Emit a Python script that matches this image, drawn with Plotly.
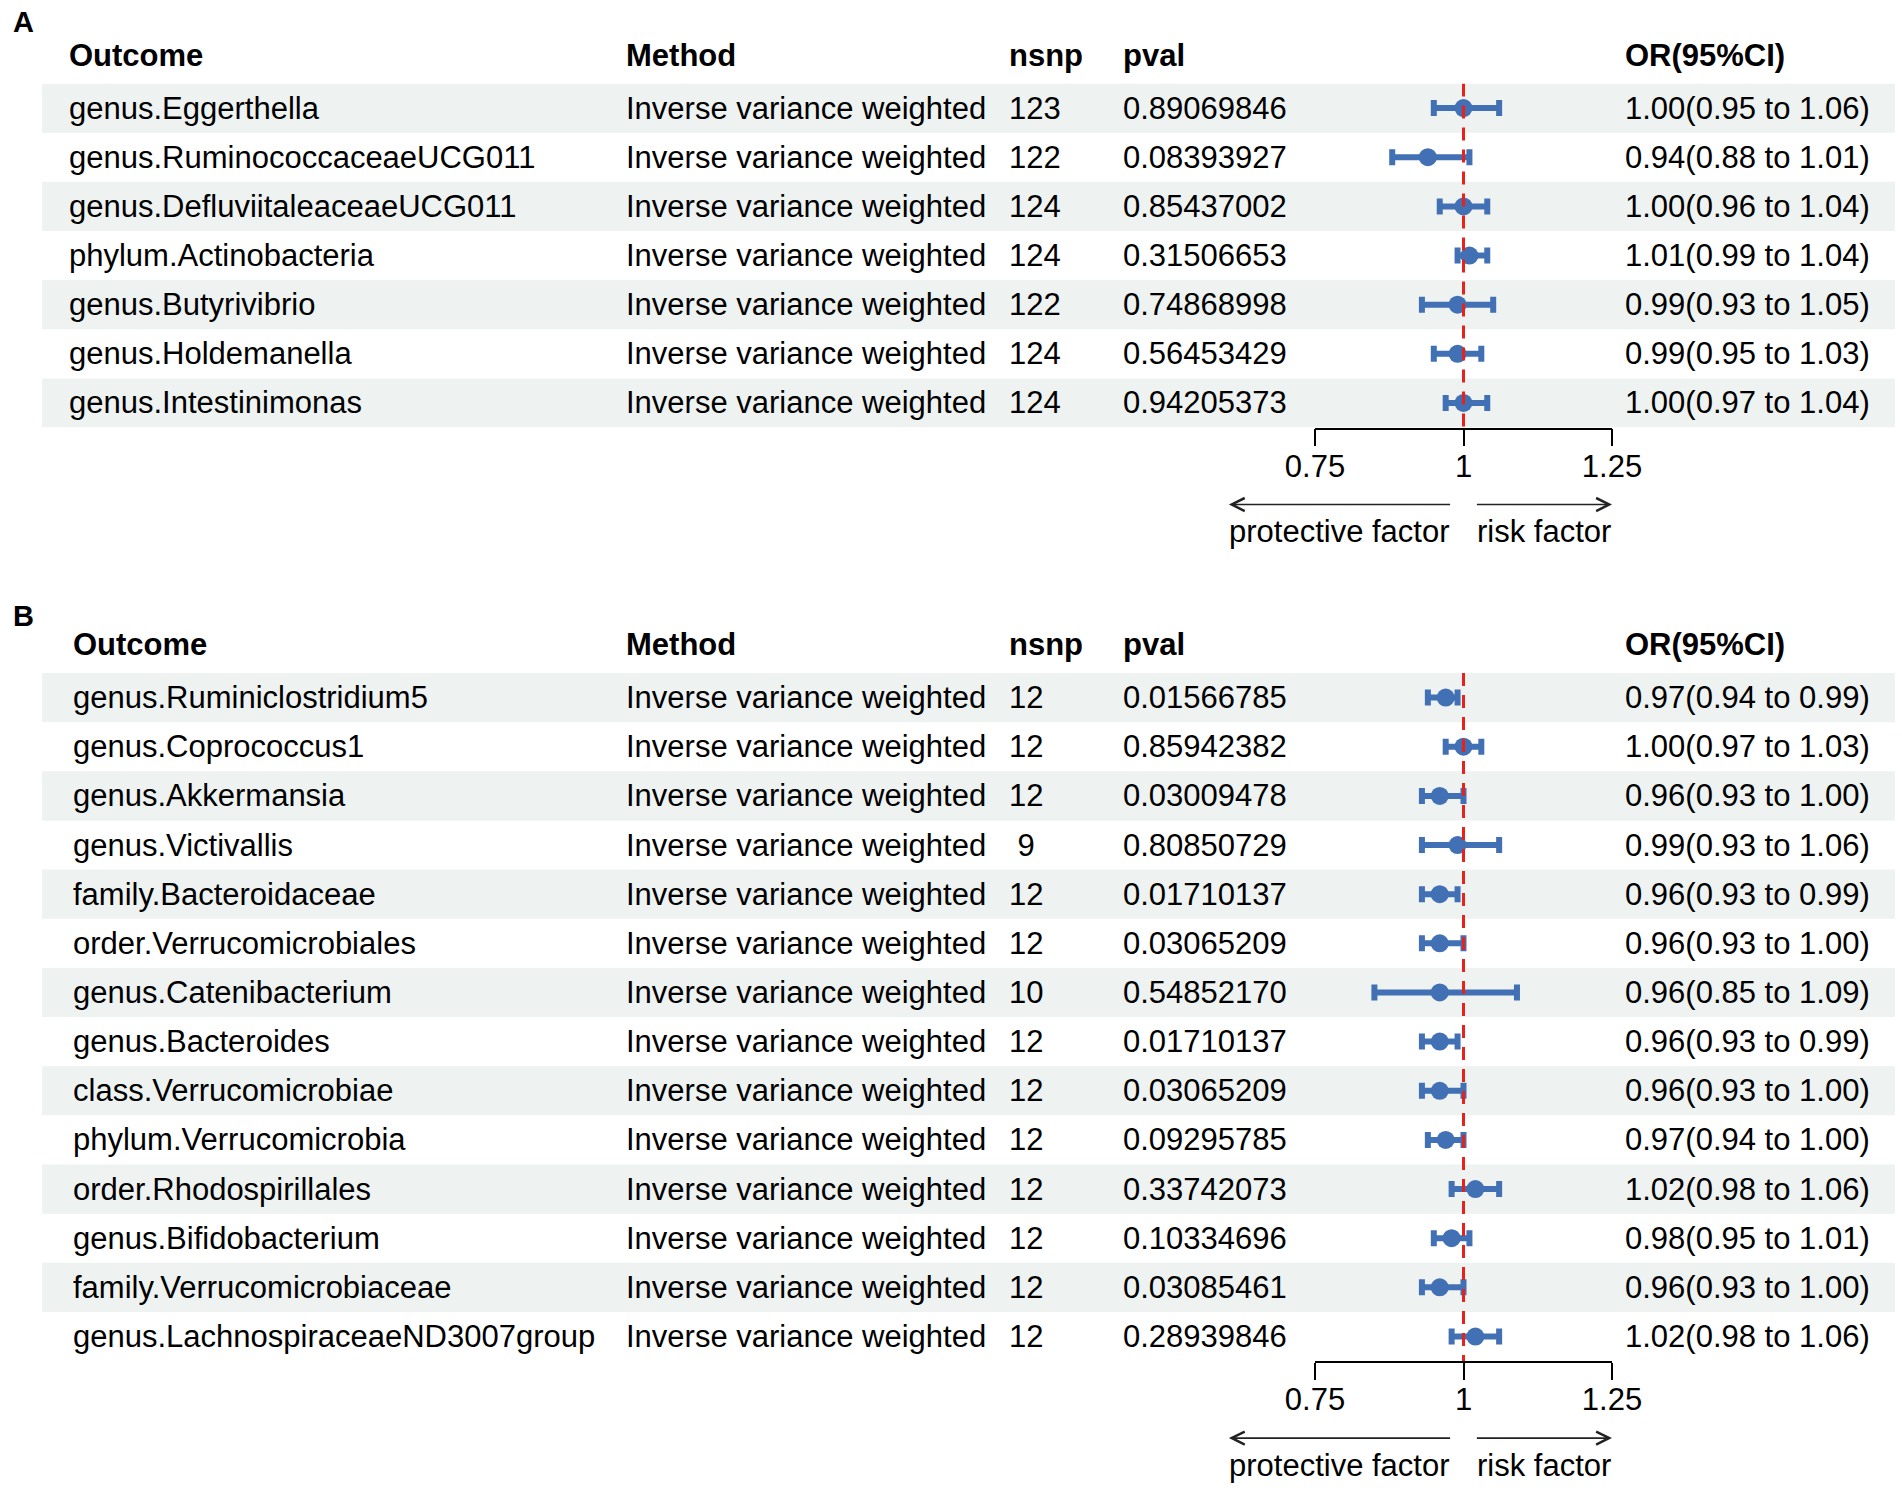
import plotly.graph_objects as go

# panel A data
outcome_a = ["genus.Eggerthella", "genus.RuminococcaceaeUCG011", "genus.DefluviitaleaceaeUCG011",
             "phylum.Actinobacteria", "genus.Butyrivibrio", "genus.Holdemanella", "genus.Intestinimonas"]
method_a = ["Inverse variance weighted"] * 7
nsnp_a = [123, 122, 124, 124, 122, 124, 124]
pval_a = ["0.89069846", "0.08393927", "0.85437002", "0.31506653", "0.74868998", "0.56453429", "0.94205373"]
or_a = [1.00, 0.94, 1.00, 1.01, 0.99, 0.99, 1.00]
lo_a = [0.95, 0.88, 0.96, 0.99, 0.93, 0.95, 0.97]
hi_a = [1.06, 1.01, 1.04, 1.04, 1.05, 1.03, 1.04]

# panel B data
outcome_b = ["genus.Ruminiclostridium5", "genus.Coprococcus1", "genus.Akkermansia", "genus.Victivallis",
             "family.Bacteroidaceae", "order.Verrucomicrobiales", "genus.Catenibacterium", "genus.Bacteroides",
             "class.Verrucomicrobiae", "phylum.Verrucomicrobia", "order.Rhodospirillales",
             "genus.Bifidobacterium", "family.Verrucomicrobiaceae", "genus.LachnospiraceaeND3007group"]
method_b = ["Inverse variance weighted"] * 14
nsnp_b = [12, 12, 12, 9, 12, 12, 10, 12, 12, 12, 12, 12, 12, 12]
pval_b = ["0.01566785", "0.85942382", "0.03009478", "0.80850729", "0.01710137", "0.03065209", "0.54852170",
          "0.01710137", "0.03065209", "0.09295785", "0.33742073", "0.10334696", "0.03085461", "0.28939846"]
or_b = [0.97, 1.00, 0.96, 0.99, 0.96, 0.96, 0.96, 0.96, 0.96, 0.97, 1.02, 0.98, 0.96, 1.02]
lo_b = [0.94, 0.97, 0.93, 0.93, 0.93, 0.93, 0.85, 0.93, 0.93, 0.94, 0.98, 0.95, 0.93, 0.98]
hi_b = [0.99, 1.03, 1.00, 1.06, 0.99, 1.00, 1.09, 0.99, 1.00, 1.00, 1.06, 1.01, 1.00, 1.06]

headers = ["Outcome", "Method", "nsnp", "pval", "OR(95%CI)"]
xticks = [0.75, 1, 1.25]
xtick_labels = ["0.75", "1", "1.25"]

W, H = 1902, 1490
FONT = "Liberation Sans, Arial, Helvetica, sans-serif"
BLUE = "#4270b5"
RED = "#e8221b"
BAND = "#eef2f1"
ROW_H = 49.15


def px(x):
    return x / W


def py(y):
    return 1 - y / H


fig = go.Figure()
annotations = []
shapes = []

panels = [
    dict(label="A", outcome=outcome_a, method=method_a, nsnp=nsnp_a, pval=pval_a,
         orv=or_a, lo=lo_a, hi=hi_a, top=83.5, label_y=22, head_y=55, out_x=67, ax="x", ay="y"),
    dict(label="B", outcome=outcome_b, method=method_b, nsnp=nsnp_b, pval=pval_b,
         orv=or_b, lo=lo_b, hi=hi_b, top=673, label_y=616, head_y=644, out_x=71, ax="x2", ay="y2"),
]

col_x = [None, 624, 1007, 1121, 1623]

for p in panels:
    n = len(p["outcome"])
    rows = list(range(1, n + 1))
    bottom = p["top"] + n * ROW_H
    p["bottom"] = bottom

    # shaded bands on odd rows
    for r in rows:
        if r % 2 == 1:
            shapes.append(dict(type="rect", xref="paper", yref=p["ay"], x0=px(42), x1=px(1895),
                               y0=r - 0.5, y1=r + 0.5, fillcolor=BAND, line_width=0, layer="below"))

    # CI + point
    fig.add_trace(go.Scatter(
        x=p["orv"], y=rows, mode="markers",
        marker=dict(size=18, color=BLUE),
        error_x=dict(type="data", symmetric=False,
                     array=[h - o for h, o in zip(p["hi"], p["orv"])],
                     arrayminus=[o - l for o, l in zip(p["orv"], p["lo"])],
                     color=BLUE, thickness=6, width=8),
        xaxis=p["ax"], yaxis=p["ay"], showlegend=False, hoverinfo="skip"))

    # reference line at OR = 1
    shapes.append(dict(type="line", xref=p["ax"], yref=p["ay"], x0=1, x1=1, y0=0.5, y1=n + 0.5,
                       line=dict(color=RED, width=3, dash="13px,9px"), layer="above"))

    # panel label and headers
    annotations.append(dict(text="<b>%s</b>" % p["label"], xref="paper", yref="paper",
                            x=px(11), y=py(p["label_y"]), xanchor="left", yanchor="middle",
                            showarrow=False, font=dict(size=29, color="black")))
    hx = [p["out_x"]] + col_x[1:]
    for h, x in zip(headers, hx):
        annotations.append(dict(text="<b>%s</b>" % h, xref="paper", yref="paper",
                                x=px(x), y=py(p["head_y"]), xanchor="left", yanchor="middle",
                                showarrow=False, font=dict(size=31, color="black")))

    # table cells
    for i, r in enumerate(rows):
        ci = "%.2f(%.2f to %.2f)" % (p["orv"][i], p["lo"][i], p["hi"][i])
        nsnp_txt = ("%2d" % p["nsnp"][i]).replace(" ", "\u00a0")
        cells = [p["outcome"][i], p["method"][i], nsnp_txt, p["pval"][i], ci]
        for c, x in zip(cells, hx):
            annotations.append(dict(text=c, xref="paper", yref=p["ay"], x=px(x), y=r,
                                    xanchor="left", yanchor="middle", showarrow=False,
                                    font=dict(size=31, color="black")))

    # direction arrows and labels
    arrow_y = py(bottom + 77)
    text_y = py(bottom + 104)
    annotations.append(dict(x=0.605, y=arrow_y, ax=0.98, ay=0, xref=p["ax"], yref="paper",
                            axref=p["ax"], ayref="pixel", text="", showarrow=True,
                            arrowhead=5, arrowsize=1.6, arrowwidth=1.6, arrowcolor="#222"))
    annotations.append(dict(x=1.25, y=arrow_y, ax=1.02, ay=0, xref=p["ax"], yref="paper",
                            axref=p["ax"], ayref="pixel", text="", showarrow=True,
                            arrowhead=5, arrowsize=1.6, arrowwidth=1.6, arrowcolor="#222"))
    annotations.append(dict(text="protective factor", x=0.98, y=text_y, xref=p["ax"], yref="paper",
                            xanchor="right", yanchor="middle", showarrow=False,
                            font=dict(size=31, color="black")))
    annotations.append(dict(text="risk factor", x=1.02, y=text_y, xref=p["ax"], yref="paper",
                            xanchor="left", yanchor="middle", showarrow=False,
                            font=dict(size=31, color="black")))

xax = dict(range=[0.75, 1.25], domain=[px(1315), px(1612)], tickvals=xticks, ticktext=xtick_labels,
           ticks="outside", ticklen=17, tickwidth=1.5, tickcolor="black", showline=True,
           linecolor="black", linewidth=1.5, showgrid=False, zeroline=False, automargin=False,
           ticklabelstandoff=-7, tickfont=dict(size=31, color="black"), fixedrange=True)

fig.update_layout(
    width=W, height=H,
    margin=dict(l=0, r=0, t=0, b=0, autoexpand=False),
    paper_bgcolor="white", plot_bgcolor="rgba(0,0,0,0)",
    font=dict(family=FONT, color="black"),
    xaxis=dict(xax, anchor="y"),
    xaxis2=dict(xax, anchor="y2"),
    yaxis=dict(range=[len(outcome_a) + 0.5, 0.5], domain=[py(panels[0]["bottom"]), py(panels[0]["top"])],
               visible=False, anchor="x", automargin=False),
    yaxis2=dict(range=[len(outcome_b) + 0.5, 0.5], domain=[py(panels[1]["bottom"]), py(panels[1]["top"])],
                visible=False, anchor="x2", automargin=False),
    shapes=shapes,
    annotations=annotations,
)

fig.write_html("out.html", config={"displayModeBar": False},
               post_script="document.body.style.margin = '0px';")
